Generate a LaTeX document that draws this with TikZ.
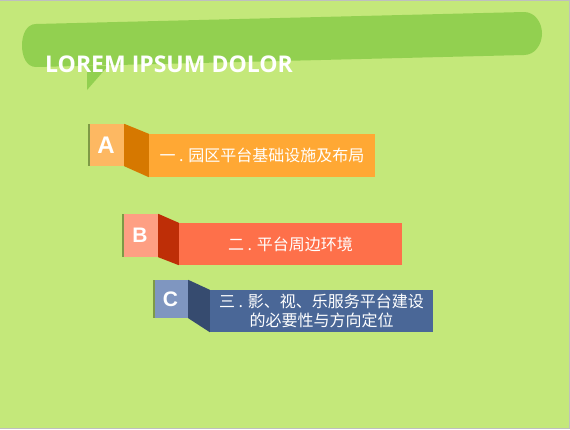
\documentclass[tikz,border=0pt]{standalone}
\usepackage{fontspec}
\setmainfont{Open Sans}
\newfontfamily\cjk{Noto Sans CJK SC}
\newfontfamily\tabfont{Liberation Sans}
\usetikzlibrary{positioning}

\definecolor{pagegreen}{HTML}{C4E87A}
\definecolor{bannergreen}{HTML}{92D050}
\definecolor{edgeolive}{HTML}{7E9A46}
\definecolor{tabA}{HTML}{FDB862}
\definecolor{foldA}{HTML}{D67800}
\definecolor{barA}{HTML}{FFA834}
\definecolor{tabB}{HTML}{FE9F83}
\definecolor{foldB}{HTML}{BE2E07}
\definecolor{barB}{HTML}{FE704A}
\definecolor{tabC}{HTML}{7F96C0}
\definecolor{foldC}{HTML}{364B6F}
\definecolor{barC}{HTML}{4A6797}

\begin{document}
\begin{tikzpicture}[x=1pt, y=-1pt,
        tabbox/.style = {minimum width=36pt, minimum height=42pt, inner sep=0pt, text=white,
                         font=\tabfont\bfseries\fontsize{21}{21}\selectfont},
        barbox/.style = {minimum height=42pt, inner sep=0pt, text=white, align=center,
                         font=\cjk\fontsize{16}{19}\selectfont},
        edge/.style = {fill=edgeolive},]
        \useasboundingbox (0,0) rectangle (570,429);
        \fill[pagegreen] (0,0) rectangle (570,429);
        \draw[gray!50, line width=1.2pt] (0,0.6) -- (569.4,0.6) -- (569.4,428.4) -- (0,428.4);

        % banner
        \fill[bannergreen] (36,24) -- (524,12) to[out=0, in=90] (542,33.5) to[out=-90, in=0] (524,55)
                -- (36,67) to[out=180, in=-90] (22,45.5) to[out=90, in=180] (36,24) -- cycle;
        \fill[bannergreen] (87,66) -- (87,90) -- (108,66) -- cycle;
        \node[anchor=base west, inner sep=0pt, text=white, font=\bfseries\fontsize{23}{23}\selectfont]
                (title) at (45,72) {LOREM IPSUM DOLOR};

        \node[tabbox, fill=tabA, minimum height=42pt, font=\tabfont\bfseries\fontsize{24}{24}\selectfont]
                (a) at (106,145) {A};
        \node[barbox, fill=barA, minimum width=226pt, minimum height=43pt] (ta) at (262,155.5) {一 . 园区平台基础设施及布局};
        \fill[foldA] (a.north east) -- (ta.north west) -- (ta.south west) -- (a.south east) -- cycle;
        \fill[edge] (a.north west) rectangle ([xshift=2pt]a.south west);

        \node[tabbox, fill=tabB, minimum height=43pt] (b) at (140,235.5) {B};
        \node[barbox, fill=barB, minimum width=223pt] (tb) at (290.5,244) {二 . 平台周边环境};
        \fill[foldB] (b.north east) -- (tb.north west) -- (tb.south west) -- (b.south east) -- cycle;
        \fill[edge] (b.north west) rectangle ([xshift=2pt]b.south west);

        \node[tabbox, fill=tabC, minimum width=35pt, minimum height=38pt] (c) at (170.5,299) {C};
        \node[barbox, fill=barC, minimum width=223pt] (tc) at (321.5,311) {三 . 影、视、乐服务平台建设\\的必要性与方向定位};
        \fill[foldC] (c.north east) -- (tc.north west) -- (tc.south west) -- (c.south east) -- cycle;
        \fill[edge] (c.north west) rectangle ([xshift=2pt]c.south west);

\end{tikzpicture}
\end{document}
